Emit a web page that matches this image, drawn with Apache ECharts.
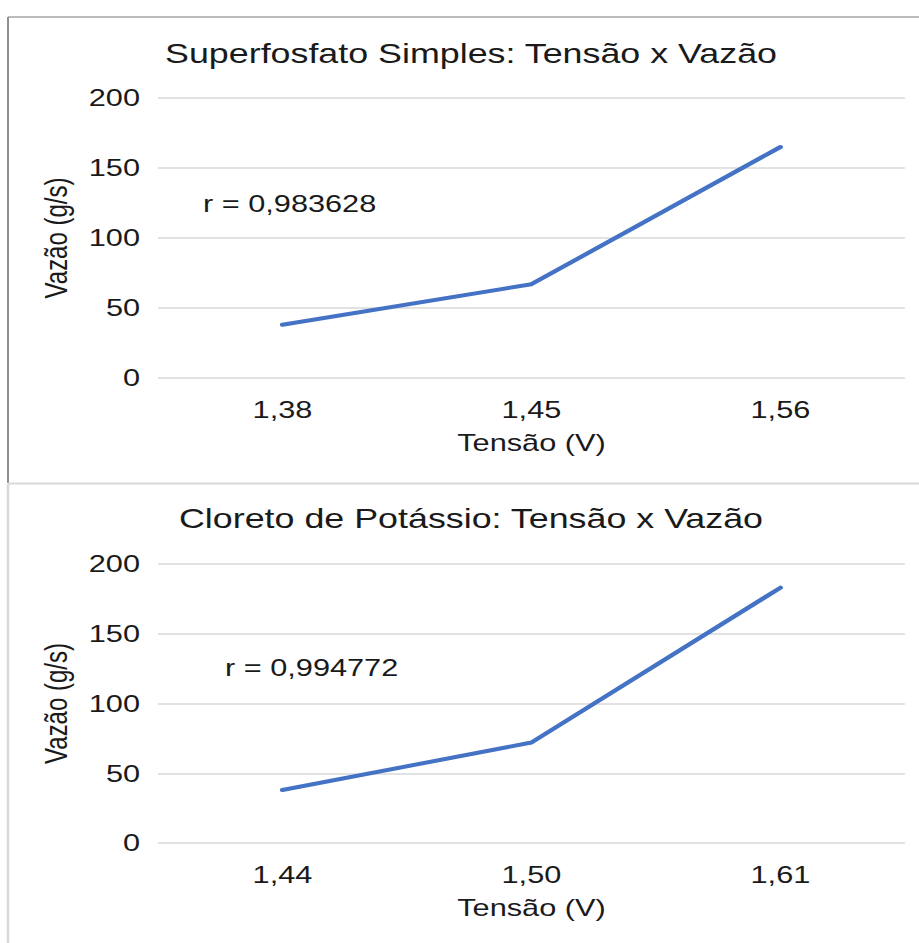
<!DOCTYPE html>
<html>
<head>
<meta charset="utf-8">
<script src="https://cdn.jsdelivr.net/npm/echarts@6/dist/echarts.min.js"></script>
<style>
html,body{margin:0;padding:0;background:#fff;overflow:hidden;}
#main{width:718px;height:943px;transform:scaleX(1.27994);transform-origin:0 0;}
</style>
</head>
<body>
<div id="main"></div>
<script>
// ---- data ----
const topTitle = 'Superfosfato Simples: Tensão x Vazão';
const topCategories = ['1,38', '1,45', '1,56'];
const topValues = [38, 67, 165];
const topR = 'r = 0,983628';

const bottomTitle = 'Cloreto de Potássio: Tensão x Vazão';
const bottomCategories = ['1,44', '1,50', '1,61'];
const bottomValues = [38, 72, 183];
const bottomR = 'r = 0,994772';

const yName = 'Vazão (g/s)';
const xName = 'Tensão (V)';
const yMin = 0, yMax = 200, yStep = 50;

// ---- style ----
const FONT = "'Liberation Sans', Arial, sans-serif";
const TXT = '#1a1a1a';
const LINE = '#4472C4';
const GRIDC = '#d9d9d9';

function xAxis(cats, gridIndex) {
  return {
    type: 'category', gridIndex, data: cats, boundaryGap: true,
    axisLine: {show: false}, axisTick: {show: false},
    axisLabel: {fontFamily: FONT, fontSize: 24, color: TXT, margin: 20},
    name: xName, nameLocation: 'middle', nameGap: 53,
    nameTextStyle: {fontFamily: FONT, fontSize: 24, color: TXT}
  };
}
function yAxis(gridIndex) {
  return {
    type: 'value', gridIndex, min: yMin, max: yMax, interval: yStep,
    axisLine: {show: false}, axisTick: {show: false},
    axisLabel: {fontFamily: FONT, fontSize: 24, color: TXT, margin: 14},
    splitLine: {show: true, lineStyle: {color: GRIDC, width: 1.5}},
    name: yName, nameLocation: 'middle', nameGap: 67, nameRotate: 90,
    nameTextStyle: {fontFamily: FONT, fontSize: 24, color: TXT}
  };
}
function txt(x, y, text, size, align) {
  return {type: 'text', x, y, silent: true,
    style: {text, font: size + 'px ' + FONT, fill: TXT,
      textAlign: align, textVerticalAlign: 'middle', align: align, verticalAlign: 'middle'}};
}
function ln(x1, y1, x2, y2, color, w) {
  return {type: 'line', silent: true, shape: {x1, y1, x2, y2}, style: {stroke: color, lineWidth: w}};
}

const chart = echarts.init(document.getElementById('main'), null, {renderer: 'svg'});
chart.setOption({
  animation: false,
  backgroundColor: '#fff',
  grid: [
    {left: 123.4, right: 11, top: 98, height: 280},
    {left: 123.4, right: 11, top: 564, height: 279}
  ],
  xAxis: [xAxis(topCategories, 0), xAxis(bottomCategories, 1)],
  yAxis: [yAxis(0), yAxis(1)],
  series: [
    {type: 'line', xAxisIndex: 0, yAxisIndex: 0, data: topValues, showSymbol: false, symbol: 'none',
     lineStyle: {color: LINE, width: 4, cap: 'round', join: 'round'}},
    {type: 'line', xAxisIndex: 1, yAxisIndex: 1, data: bottomValues, showSymbol: false, symbol: 'none',
     lineStyle: {color: LINE, width: 4, cap: 'round', join: 'round'}}
  ],
  graphic: [
    ln(6.25, 17, 718, 17, '#a6a6a6', 1.5),
    ln(6.25, 17, 6.25, 483, '#8c8c8c', 1.5),
    ln(6.25, 483.5, 718, 483.5, '#d9d9d9', 2),
    ln(6.25, 484, 6.25, 943, '#d9d9d9', 2),
    txt(368, 53, topTitle, 28, 'center'),
    txt(368, 518, bottomTitle, 28, 'center'),
    txt(158.6, 204, topR, 24, 'left'),
    txt(175.8, 668, bottomR, 24, 'left')
  ]
});
</script>
</body>
</html>
